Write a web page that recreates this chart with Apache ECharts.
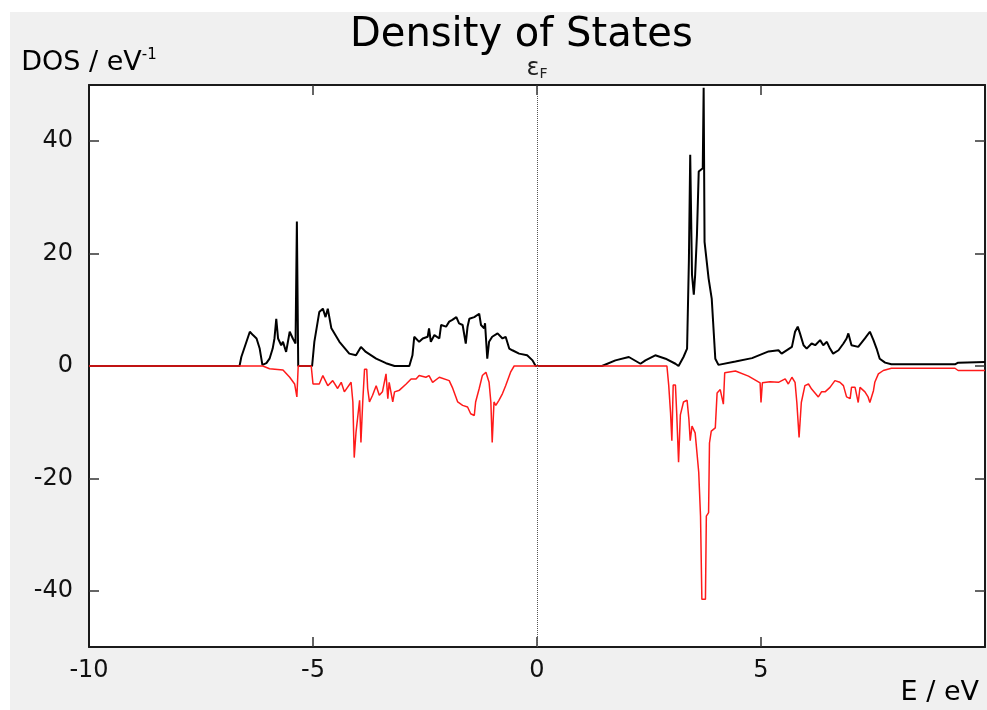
<!DOCTYPE html>
<html>
<head>
<meta charset="utf-8">
<script src="https://cdn.jsdelivr.net/npm/echarts@6/dist/echarts.min.js"></script>
<style>
  html, body { margin: 0; padding: 0; background: #fff; }
  #chart { width: 987px; height: 710px; }
</style>
</head>
<body>
<div id="chart"></div>
<script>
// spin-up DOS (black)
const energyUp = [-10, -6.64, -6.60, -6.41, -6.34, -6.26, -6.19, -6.13, -6.04, -5.97, -5.90, -5.86, -5.82, -5.78, -5.71, -5.67, -5.60, -5.52,
  -5.45, -5.39, -5.36, -5.33, -5.02, -4.97, -4.86, -4.78, -4.72, -4.67, -4.59, -4.41, -4.19, -4.04, -3.93, -3.82, -3.59, -3.37, -3.18, -2.85,
  -2.78, -2.74, -2.70, -2.63, -2.55, -2.44, -2.41, -2.37, -2.29, -2.18, -2.14, -2.03, -1.96, -1.89, -1.80, -1.74, -1.66, -1.59, -1.55, -1.51,
  -1.40, -1.29, -1.25, -1.18, -1.16, -1.11, -1.07, -1.00, -0.88, -0.77, -0.70, -0.62, -0.55, -0.40, -0.22, -0.10, -0.03,
  1.45, 1.75, 2.05, 2.31, 2.42, 2.64, 2.87, 3.09, 3.16, 3.27, 3.35, 3.39, 3.42, 3.46, 3.50, 3.53, 3.57, 3.61, 3.70, 3.72,
  3.74, 3.83, 3.90, 3.98, 4.05, 4.43, 4.80, 5.17, 5.39, 5.46, 5.69, 5.76, 5.82, 5.87, 5.95, 6.02, 6.13, 6.21, 6.32, 6.39,
  6.47, 6.54, 6.61, 6.73, 6.84, 6.91, 6.95, 7.02, 7.17, 7.32, 7.43, 7.51, 7.58, 7.65, 7.77, 7.91, 9.33, 9.40, 10]
const dosUp = [0, 0, 1.6, 6.1, 5.5, 4.9, 3.1, 0.2, 0.5, 1.3, 3.1, 4.9, 8.4, 4.9, 3.7, 4.3, 2.5, 6.1,
  4.9, 4.0, 25.7, 0, 0, 4.3, 9.6, 10.2, 8.7, 10.2, 6.7, 4.3, 2.2, 1.9, 3.4, 2.5, 1.3, 0.5, 0, 0,
  1.9, 5.2, 5.5, 4.3, 4.9, 5.2, 6.7, 4.3, 5.5, 4.9, 7.3, 7.0, 7.9, 8.2, 8.7, 7.6, 7.3, 4.0, 7.0, 8.4,
  8.7, 9.3, 7.3, 6.7, 7.6, 1.3, 4.3, 5.2, 5.8, 4.9, 5.2, 3.1, 2.8, 2.2, 1.9, 1.0, 0,
  0, 1.0, 1.6, 0.4, 1.0, 1.9, 1.3, 0.4, 0, 1.6, 3.1, 18.6, 37.6, 16.2, 12.7, 16.2, 23.3, 34.6, 35.2, 49.5,
  22.1, 15.6, 12.0, 1.3, 0.2, 0.8, 1.4, 2.6, 2.8, 2.2, 3.4, 6.1, 7.0, 5.8, 3.7, 3.1, 4.0, 3.7, 4.6, 3.7,
  4.3, 3.1, 2.2, 2.8, 4.0, 4.9, 5.8, 3.7, 3.4, 4.9, 6.1, 4.6, 3.1, 1.3, 0.6, 0.3, 0.3, 0.6, 0.7]

// spin-down DOS (red)
const energyDown = [-10, -6.12, -5.97, -5.67, -5.52, -5.41, -5.36, -5.33, -5.04, -5.00,
  -4.86, -4.78, -4.67, -4.56, -4.45, -4.37, -4.30, -4.15, -4.11, -4.08,
  -4.04, -3.96, -3.93, -3.89, -3.85, -3.80, -3.78, -3.74, -3.67, -3.59,
  -3.52, -3.45, -3.37, -3.33, -3.30, -3.22, -3.18, -3.07, -2.92, -2.81,
  -2.70, -2.63, -2.48, -2.41, -2.33, -2.18, -1.96, -1.89, -1.77, -1.66,
  -1.55, -1.48, -1.40, -1.37, -1.29, -1.22, -1.14, -1.07, -1.03, -1.00,
  -0.96, -0.92, -0.85, -0.77, -0.70, -0.59, -0.51, 2.90, 2.94, 2.98,
  3.01, 3.04, 3.09, 3.12, 3.16, 3.20, 3.27, 3.35, 3.39, 3.42,
  3.46, 3.53, 3.61, 3.65, 3.68, 3.76, 3.78, 3.83, 3.85, 3.89,
  3.98, 4.02, 4.09, 4.16, 4.19, 4.43, 4.72, 4.98, 5.00, 5.03,
  5.20, 5.39, 5.54, 5.61, 5.69, 5.76, 5.80, 5.85, 5.90, 5.98,
  6.06, 6.13, 6.28, 6.35, 6.43, 6.54, 6.65, 6.76, 6.84, 6.91,
  6.99, 7.02, 7.10, 7.17, 7.21, 7.32, 7.39, 7.43, 7.51, 7.54,
  7.62, 7.73, 7.91, 9.33, 9.40, 10]
const dosDown = [0, 0, -0.5, -0.7, -2.0, -3.2, -5.5, 0, 0, -3.2,
  -3.2, -1.7, -3.5, -2.6, -4.0, -2.9, -4.6, -2.9, -6.4, -16.3,
  -11.8, -6.1, -13.6, -6.4, -0.6, -0.6, -4.0, -6.4, -5.2, -3.5,
  -5.2, -4.6, -1.4, -5.8, -2.9, -6.4, -4.6, -4.3, -3.2, -2.3,
  -2.3, -1.7, -2.0, -1.7, -2.9, -2.0, -2.6, -3.8, -6.4, -7.0,
  -7.3, -8.5, -8.8, -6.4, -4.0, -1.7, -1.1, -2.9, -6.4, -13.6,
  -6.4, -7.0, -6.1, -4.9, -3.5, -1.1, 0, 0, -3.4, -8.2,
  -13.3, -3.4, -3.4, -8.7, -17.1, -8.7, -6.4, -6.1, -9.4, -13.3,
  -10.7, -11.9, -18.9, -26.7, -41.5, -41.5, -26.7, -26.1, -13.7, -11.6,
  -11.0, -4.8, -4.2, -6.8, -1.2, -0.9, -1.8, -3.0, -6.5, -3.0,
  -2.8, -2.9, -2.3, -3.2, -2.0, -2.9, -6.5, -12.7, -6.5, -3.5,
  -3.2, -4.1, -5.5, -4.6, -4.6, -3.8, -2.6, -2.9, -3.5, -5.5,
  -5.8, -3.8, -3.8, -6.5, -3.8, -4.6, -5.5, -6.5, -4.4, -2.9,
  -1.4, -0.8, -0.4, -0.4, -0.8, -0.8]

const xLabels = [-10, -5, 0, 5]
const xTicks = [-5, 0, 5]
const yTicks = [-40, -20, 0, 20, 40]

const font = 'DejaVu Sans'
const axisColor = '#1a1a1a'

const chart = echarts.init(document.getElementById('chart'))

const upData = energyUp.map((e, i) => [e, dosUp[i]])
const downData = energyDown.map((e, i) => [e, dosDown[i]])

const option = {
  animation: false,
  backgroundColor: '#f0f0f0',
  graphic: [
    // white strips at the top and left of the picture
    { type: 'rect', left: 0, top: 0, shape: { width: 987, height: 12 }, style: { fill: '#fff' }, silent: true },
    { type: 'rect', left: 0, top: 0, shape: { width: 10, height: 710 }, style: { fill: '#fff' }, silent: true }
  ],
  title: {
    text: 'Density of States',
    left: 350,
    top: 16,
    padding: 0,
    textStyle: { fontFamily: font, fontSize: 40, fontWeight: 'normal', color: '#000' }
  },
  grid: {
    left: 89,
    right: 2,
    top: 85,
    bottom: 63,
    show: true,
    backgroundColor: '#fff',
    borderWidth: 0
  },
  xAxis: [
    {
      type: 'value',
      min: -10,
      max: 10,
      position: 'bottom',
      axisLine: { show: true, onZero: false, lineStyle: { color: axisColor, width: 2 } },
      axisTick: { show: true, inside: true, length: 10, customValues: xTicks, lineStyle: { color: '#333', width: 1.5 } },
      axisLabel: { customValues: xLabels, margin: 12, fontFamily: font, fontSize: 24, color: '#111' },
      splitLine: { show: false },
      name: 'E / eV',
      nameLocation: 'end',
      nameGap: -6,
      nameTextStyle: { fontFamily: font, fontSize: 27, color: '#000', align: 'right', verticalAlign: 'top', padding: [32, 0, 0, 0] }
    },
    {
      type: 'value',
      min: -10,
      max: 10,
      position: 'top',
      axisLine: { show: true, onZero: false, lineStyle: { color: axisColor, width: 2 } },
      axisTick: { show: true, inside: true, length: 10, customValues: xTicks, lineStyle: { color: '#333', width: 1.5 } },
      axisLabel: { show: false },
      splitLine: { show: false }
    }
  ],
  yAxis: [
    {
      type: 'value',
      min: -50,
      max: 50,
      position: 'left',
      axisLine: { show: true, onZero: false, lineStyle: { color: axisColor, width: 2 } },
      axisTick: { show: true, inside: true, length: 10, customValues: yTicks, lineStyle: { color: '#333', width: 1.5 } },
      axisLabel: { customValues: yTicks, margin: 16, fontFamily: font, fontSize: 24, color: '#111' },
      splitLine: { show: false },
      name: '{a|DOS / eV}{s|-1}',
      nameLocation: 'end',
      nameGap: 7,
      nameTextStyle: {
        rich: {
          a: { fontFamily: font, fontSize: 27, color: '#000', lineHeight: 30 },
          s: { fontFamily: font, fontSize: 15, color: '#000', verticalAlign: 'top', lineHeight: 18 }
        }
      }
    },
    {
      type: 'value',
      min: -50,
      max: 50,
      position: 'right',
      axisLine: { show: true, onZero: false, lineStyle: { color: axisColor, width: 2 } },
      axisTick: { show: true, inside: true, length: 10, customValues: yTicks, lineStyle: { color: '#333', width: 1.5 } },
      axisLabel: { show: false },
      splitLine: { show: false }
    }
  ],
  series: [
    {
      name: 'up',
      type: 'line',
      data: upData,
      showSymbol: false,
      lineStyle: { color: '#000', width: 2 },
      z: 3,
      markLine: {
        silent: true,
        symbol: ['none', 'none'],
        lineStyle: { type: 'dotted', color: '#555', width: 1 },
        label: {
          show: true,
          position: 'end',
          distance: 4,
          fontSize: 22,
          color: '#222',
          formatter: '{e|ε}{f|F}',
          rich: {
            e: { fontFamily: font, fontSize: 24, color: '#222', lineHeight: 24 },
            f: { fontFamily: font, fontSize: 14, color: '#222', verticalAlign: 'bottom', lineHeight: 18 }
          }
        },
        data: [{ xAxis: 0 }]
      }
    },
    {
      name: 'down',
      type: 'line',
      data: downData,
      showSymbol: false,
      lineStyle: { color: '#ff1a1a', width: 1.5 },
      z: 4
    }
  ]
}

chart.setOption(option)
</script>
</body>
</html>
